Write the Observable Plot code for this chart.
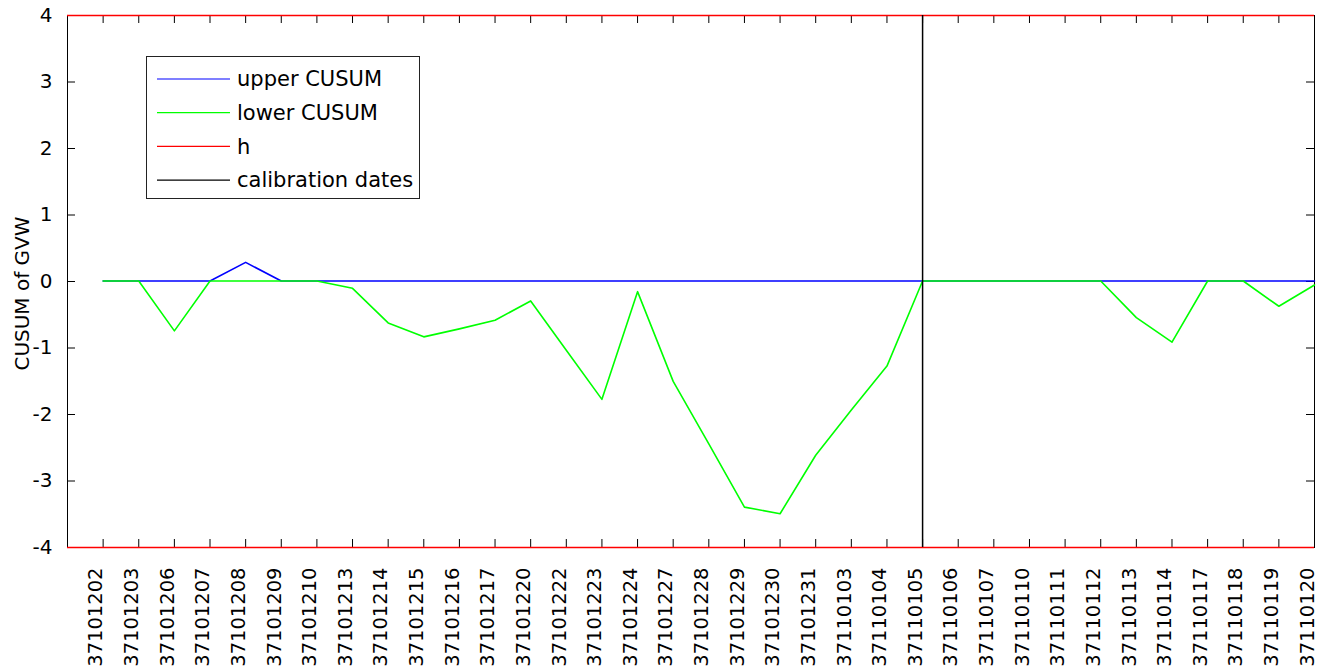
<!DOCTYPE html>
<html>
<head>
<meta charset="utf-8">
<script src="https://cdn.jsdelivr.net/npm/d3@7"></script>
<script src="https://cdn.jsdelivr.net/npm/@observablehq/plot@0.6"></script>
<style>
  html, body { margin: 0; padding: 0; background: #fff; }
  #chart { position: relative; width: 1324px; height: 671px; overflow: hidden; }
</style>
</head>
<body>
<div id="chart"></div>
<script>
// Trading dates (category axis)
const dates = [
  "37101202", "37101203", "37101206", "37101207", "37101208", "37101209", "37101210",
  "37101213", "37101214", "37101215", "37101216", "37101217", "37101220", "37101222",
  "37101223", "37101224", "37101227", "37101228", "37101229", "37101230", "37101231",
  "37110103", "37110104", "37110105", "37110106", "37110107", "37110110", "37110111",
  "37110112", "37110113", "37110114", "37110117", "37110118", "37110119", "37110120"
];

// Upper CUSUM statistic per date
const upperCusum = [
  0, 0, 0, 0, 0.28, 0, 0,
  0, 0, 0, 0, 0, 0, 0,
  0, 0, 0, 0, 0, 0, 0,
  0, 0, 0, 0, 0, 0, 0,
  0, 0, 0, 0, 0, 0, 0
];

// Lower CUSUM statistic per date
const lowerCusum = [
  0, 0, -0.75, 0, 0, 0, 0,
  -0.11, -0.63, -0.84, -0.72, -0.59, -0.30, -1.04,
  -1.78, -0.16, -1.51, -2.45, -3.40, -3.50, -2.62,
  -1.94, -1.28, 0, 0, 0, 0, 0,
  0, -0.55, -0.92, 0, 0, -0.38, -0.06
];

// Decision interval h
const hLimit = 4;

// Calibration dates
const calibrationDates = ["37110105"];

// Y tick values
const yTicks = [-4, -3, -2, -1, 0, 1, 2, 3, 4];

// Legend entries
const legendLabels = ["upper CUSUM", "lower CUSUM", "h", "calibration dates"];
const legendColors = ["#0000ff", "#00ff00", "#ff0000", "#000000"];

const rows = dates.map((d, i) => ({pos: i + 1, date: d, upper: upperCusum[i], lower: lowerCusum[i]}));
const xTicks = dates.map((d, i) => i + 1);
const calibrationPos = calibrationDates.map(d => dates.indexOf(d) + 1);

const W = 1324, H = 671;
const margin = {left: 67, right: 10, top: 15, bottom: 124};
const frameW = W - margin.left - margin.right;
const frameH = H - margin.top - margin.bottom;
const tickLen = 8;

const svg = Plot.plot({
  width: W,
  height: H,
  marginLeft: margin.left,
  marginRight: margin.right,
  marginTop: margin.top,
  marginBottom: margin.bottom,
  style: {fontFamily: "'DejaVu Sans', sans-serif", fontSize: "20px", color: "#000", background: "#fff"},
  x: {domain: [0, dates.length]},
  y: {domain: [-hLimit, hLimit]},
  marks: [
    Plot.frame({stroke: "#000"}),
    // inward tick marks on all four sides
    Plot.tickX(xTicks, {x: d => d, insetTop: frameH - tickLen, stroke: "#000"}),
    Plot.tickX(xTicks, {x: d => d, insetBottom: frameH - tickLen, stroke: "#000"}),
    Plot.tickY(yTicks, {y: d => d, insetRight: frameW - tickLen, stroke: "#000"}),
    Plot.tickY(yTicks, {y: d => d, insetLeft: frameW - tickLen, stroke: "#000"}),
    // tick labels (date labels sit just left of their tick)
    Plot.axisX({anchor: "bottom", ticks: xTicks, tickSize: 0, tickPadding: 20, tickRotate: -90, dx: -7,
      tickFormat: i => dates[i - 1], fontSize: 19.5, label: null}),
    Plot.axisY({anchor: "left", ticks: yTicks, tickSize: 0, tickPadding: 15, tickFormat: d => String(d), label: null}),
    Plot.text(["CUSUM of GVW"], {frameAnchor: "left", textAnchor: "middle", rotate: -90, dx: -45, dy: 12, fontSize: 20}),
    // series
    Plot.line(rows, {x: "pos", y: "upper", stroke: legendColors[0], strokeWidth: 1.6, dy: -0.5}),
    Plot.line(rows, {x: "pos", y: "lower", stroke: legendColors[1], strokeWidth: 1.6, dy: -0.5}),
    Plot.ruleY([-hLimit, hLimit], {stroke: legendColors[2], strokeWidth: 1.5}),
    Plot.ruleX(calibrationPos, {stroke: legendColors[3], strokeWidth: 1.5})
  ]
});

// Legend box in the upper-left of the plot area
const g = d3.select(svg).append("g").attr("class", "legend").attr("text-anchor", "start");
const box = {x: 146.5, y: 56.5, w: 273, h: 142};
g.append("rect")
  .attr("x", box.x).attr("y", box.y).attr("width", box.w).attr("height", box.h)
  .attr("fill", "#fff").attr("stroke", "#222").attr("stroke-width", 1);
legendLabels.forEach((label, k) => {
  const cy = 79 + k * 33.7;
  g.append("line")
    .attr("x1", 157).attr("x2", 230).attr("y1", cy).attr("y2", cy)
    .attr("stroke", legendColors[k]).attr("stroke-width", 1.2);
  g.append("text")
    .attr("x", 237).attr("y", cy).attr("dy", "0.35em")
    .attr("font-size", 21).attr("fill", "#000")
    .text(label);
});

document.getElementById("chart").appendChild(svg);
</script>
</body>
</html>
